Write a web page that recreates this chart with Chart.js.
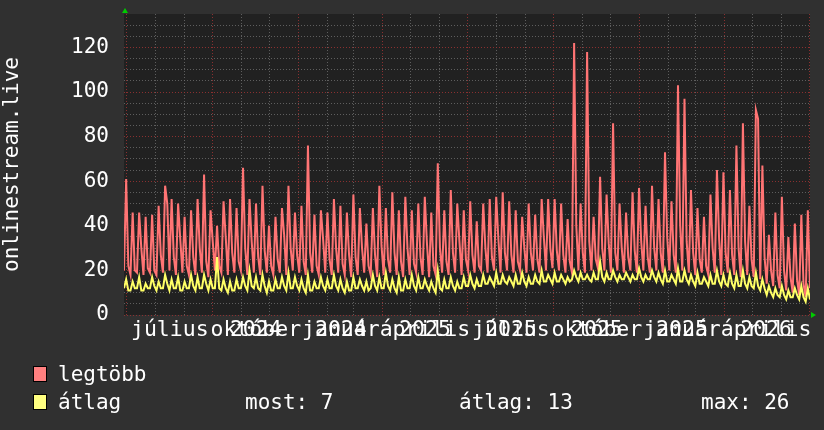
<!DOCTYPE html>
<html><head><meta charset="utf-8">
<script src="https://cdn.jsdelivr.net/npm/chart.js@4/dist/chart.umd.min.js"></script>
<style>
html,body{margin:0;padding:0;background:#303030;}
#wrap{position:relative;width:824px;height:430px;overflow:hidden;background:#303030;}
canvas{position:absolute;left:0;top:0;}
.lg{position:absolute;font-family:'DejaVu Sans Mono',monospace;font-size:21px;color:#fff;line-height:24px;white-space:pre;}
.sw{position:absolute;width:12px;height:14px;border:1px solid #000;}
</style></head><body>
<div id="wrap"><canvas id="c" width="824" height="430"></canvas>
<div class="sw" style="left:33px;top:366px;background:#ff8080"></div>
<div class="lg" style="left:58px;top:362px">legtöbb</div>
<div class="sw" style="left:33px;top:394px;background:#ffff80"></div>
<div class="lg" style="left:58px;top:390px">átlag</div>
<div class="lg" style="left:245px;top:390px">most: 7</div>
<div class="lg" style="left:459px;top:390px">átlag: 13</div>
<div class="lg" style="left:701px;top:390px">max: 26</div>
</div>
<script>
// --- data (3 samples per week) ---
const legtobb = [
20,61,22, 18,46,20, 19,46,30, 18,44,21, 19,45,20, 18,49,27, 19,58,50, 20,52,26, 18,50,34, 19,44,22, 18,47,26,
18,52,30, 19,63,24, 17,47,33, 20,40,22, 19,51,35, 18,52,28, 19,48,24, 20,66,30, 18,52,33, 19,50,26,
18,58,29, 19,40,22, 18,44,25, 19,48,36, 18,58,30, 20,46,27, 19,49,24, 18,76,28, 19,45,22, 18,47,34,
19,46,25, 18,52,30, 19,49,23, 18,46,27, 17,54,26, 18,48,30, 19,41,22, 18,48,27, 17,58,31, 18,48,25,
19,55,28, 18,47,24, 17,53,30, 18,47,23, 19,50,26, 18,53,32, 17,46,22, 18,68,30, 19,47,24, 18,56,28,
19,50,33, 18,47,25, 20,51,27, 19,42,22, 20,50,30, 19,52,26, 20,53,34, 19,55,28, 20,51,27, 19,47,24,
20,44,30, 19,50,28, 20,45,25, 19,52,35, 20,52,30, 21,52,29, 20,50,27, 19,43,24, 19,122,40,
20,50,28, 19,118,33, 20,44,25, 21,62,30, 20,54,32, 19,86,28, 20,50,30, 19,46,26, 20,55,29, 19,57,33,
20,49,26, 19,58,30, 20,52,28, 19,73,35, 20,51,27, 19,103,40, 20,97,33, 19,56,28, 18,48,25, 19,44,22,
18,54,30, 19,65,34, 18,64,28, 19,56,27, 18,76,30, 17,86,33, 18,49,25, 17,92,88, 16,67,26, 14,36,20,
13,46,18, 12,53,20, 11,35,17, 10,41,16, 9,45,14, 8,47,12
];
const atlag = [
12,16,11, 11,15,12, 12,17,11, 11,14,12, 12,17,13, 11,15,12, 12,18,14, 11,16,12, 12,17,11, 11,15,12,
12,18,13, 11,17,12, 12,18,14, 11,16,12, 12,26,12, 11,16,12, 10,15,11, 11,16,12, 12,17,13, 11,20,13, 12,17,12,
11,18,13, 10,15,11, 11,16,12, 12,17,13, 11,19,12, 12,17,13, 11,16,12, 10,18,11, 11,15,12, 12,17,13,
11,16,12, 12,18,13, 11,16,12, 10,15,11, 11,17,12, 12,16,13, 11,15,11, 12,18,13, 11,17,12, 12,19,13,
11,16,12, 10,17,11, 11,16,12, 12,18,13, 11,17,12, 12,16,13, 11,15,12, 10,20,12, 11,16,12, 12,17,13,
11,15,12, 12,17,13, 13,18,14, 12,16,13, 13,18,14, 14,17,15, 13,19,14, 14,18,15, 14,17,15, 13,18,14,
14,19,15, 13,17,14, 14,18,15, 14,20,15, 15,18,16, 14,19,15, 15,18,16, 14,17,15, 16,20,17,
15,19,16, 16,18,16, 15,19,16, 16,24,17, 15,19,16, 16,20,17, 15,18,16, 16,19,17, 15,18,16, 16,21,17,
15,18,16, 16,20,17, 15,19,16, 14,20,15, 15,18,16, 14,21,15, 15,20,16, 14,18,15, 13,19,14, 14,17,15,
13,18,14, 14,20,15, 13,18,14, 13,19,14, 12,18,13, 13,20,14, 12,17,13, 12,19,13, 11,16,12, 9,13,10,
8,12,9, 8,13,9, 7,11,8, 8,12,9, 7,13,8, 6,12,7
];
// time axis: days since 2024-06-28
const spanDays = 734;
const monthStartDays = [3,34,65,95,126,156,187,218,246,277,307,338,368,399,430,460,491,521,552,583,611,642,672,703,733];
const majorDays = [3,95,187,277,368,460,552,642,733];
const labelDays = [49,141,232,322,414,506,597,687];
const monthLabels = ['július','október','január','április','július','október','január','április'];
const yearLabels = ['','2024','2024','2025','2025','2025','2025','2026'];
const yTickLabels = [0,20,40,60,80,100,120];
const yMax = 135;
const yTitle = 'onlinestream.live';

const N = legtobb.length;
const toPts = arr => arr.map((v,i)=>({x: i*spanDays/(N-1), y: v}));
const xTickValues = monthStartDays.concat(labelDays).sort((a,b)=>a-b);

const FONT = {family:"'DejaVu Sans Mono', monospace", size:21};
const XFONT = {family:"'DejaVu Sans Mono', monospace", size:21.5};
const LINE_H = 21.5*1.2;
const MAJ = 'rgba(150,50,50,0.9)', MIN = 'rgba(110,110,110,0.8)';

const decoPlugin = {
  id:'deco',
  beforeDraw(c){const {ctx,chartArea:a}=c;ctx.save();ctx.fillStyle='#303030';ctx.fillRect(0,0,c.width,c.height);ctx.fillStyle='#212121';ctx.fillRect(a.left,a.top,a.right-a.left,a.bottom-a.top);ctx.restore();},
  afterDraw(c){const {ctx,chartArea:a}=c; const sx=c.scales.x;
    ctx.save();
    // year labels, drawn over the month labels like the reference
    ctx.font = "21.5px 'DejaVu Sans Mono', monospace"; ctx.fillStyle='#fff';
    ctx.textAlign='center'; ctx.textBaseline='middle';
    const yy = sx.top + sx.options.ticks.padding + LINE_H/2;
    labelDays.forEach((d,i)=>{ if(yearLabels[i]) ctx.fillText(yearLabels[i], sx.getPixelForValue(d), yy); });
    ctx.fillStyle='#00cc00';
    ctx.beginPath();ctx.moveTo(a.left+1-3,a.top-1);ctx.lineTo(a.left+1+3,a.top-1);ctx.lineTo(a.left+1,a.top-6);ctx.closePath();ctx.fill();
    ctx.beginPath();ctx.moveTo(a.right+1,a.bottom-3);ctx.lineTo(a.right+1,a.bottom+3);ctx.lineTo(a.right+6,a.bottom);ctx.closePath();ctx.fill();
    ctx.restore();}
};

new Chart(document.getElementById('c'), {
  type:'line',
  data:{datasets:[
    {label:'átlag', data:toPts(atlag), borderColor:'#ffff66', borderWidth:2, pointRadius:0, tension:0, order:0},
    {label:'legtöbb', data:toPts(legtobb), borderColor:'#ff7474', borderWidth:2, pointRadius:0, tension:0, order:1}
  ]},
  options:{
    responsive:false, devicePixelRatio:1, animation:false,
    layout:{padding:{left:0,right:14,top:14,bottom:0}},
    plugins:{legend:{display:false}, tooltip:{enabled:false}},
    scales:{
      x:{type:'linear', min:0, max:spanDays, position:'bottom',
        afterBuildTicks:s=>{ s.ticks = xTickValues.map(v=>({value:v})); },
        afterFit:s=>{ s.height=115; s.paddingLeft=0; s.paddingRight=0; },
        grid:{drawTicks:false, lineWidth:1,
          color:ctx=>{const v=ctx.tick&&ctx.tick.value; if(labelDays.includes(v)) return 'rgba(0,0,0,0)'; return majorDays.includes(v)?MAJ:MIN;}},
        border:{display:false, dash:[1,2]},
        ticks:{autoSkip:false, maxRotation:0, padding:3, color:'#fff', font:XFONT,
          callback:v=>{const i=labelDays.indexOf(v); return i>=0?monthLabels[i]:'';}}
      },
      y:{min:0, max:yMax,
        afterBuildTicks:s=>{const t=[];for(let v=0;v<=130;v+=5)t.push({value:v});s.ticks=t;},
        afterFit:s=>{ s.width=124; s.paddingTop=0; s.paddingBottom=0; },
        grid:{drawTicks:false, color:ctx=>(ctx.tick && ctx.tick.value%20===0)?MAJ:MIN, lineWidth:1},
        border:{display:false, dash:[1,2]},
        title:{display:true, text:yTitle, color:'#fff', font:FONT, padding:{top:0,bottom:0}},
        ticks:{padding:15, color:'#fff', font:FONT, autoSkip:false,
          callback:v=>yTickLabels.includes(v)?String(v):''}
      }
    }
  },
  plugins:[decoPlugin]
});
</script>
</body></html>
